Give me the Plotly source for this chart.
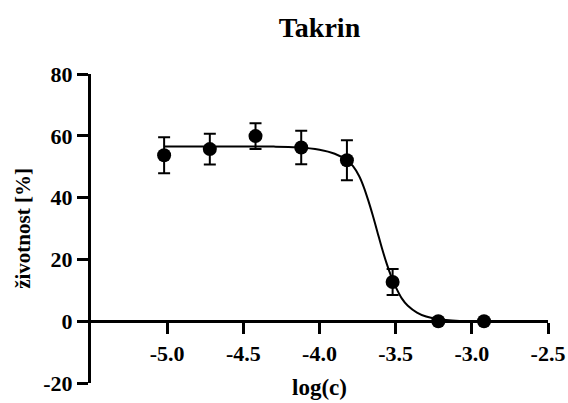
import plotly.graph_objects as go

# Data
log_c = [-5.02, -4.72, -4.42, -4.12, -3.82, -3.52, -3.22, -2.92]
viability = [53.7, 55.7, 59.9, 56.2, 52.1, 12.7, 0.0, 0.0]
viability_err = [5.8, 5.0, 4.2, 5.4, 6.5, 4.2, 0.0, 0.0]

# Fitted curve
fit_x = [-5.02, -4.6, -4.3, -4.15, -4.0, -3.9, -3.82, -3.78, -3.74, -3.71, -3.68, -3.65,
         -3.62, -3.59, -3.56, -3.53, -3.50, -3.46, -3.42, -3.36, -3.30, -3.24, -3.17, -3.08, -2.92]
fit_y = [56.5, 56.5, 56.5, 56.3, 55.5, 54.2, 52.1, 50.2, 47.0, 43.5, 39.1, 34.2,
         28.9, 23.6, 18.8, 14.6, 11.1, 7.4, 5.0, 2.8, 1.5, 0.8, 0.35, 0.1, 0.0]

x_ticks = [-5.0, -4.5, -4.0, -3.5, -3.0, -2.5]
x_tick_labels = ["-5.0", "-4.5", "-4.0", "-3.5", "-3.0", "-2.5"]
y_ticks = [-20, 0, 20, 40, 60, 80]
y_tick_labels = ["-20", "0", "20", "40", "60", "80"]

FONT = "Times New Roman"

fig = go.Figure()
fig.add_trace(go.Scatter(
    x=fit_x, y=fit_y, mode="lines", line=dict(color="black", width=2, shape="spline", smoothing=0.8),
    hoverinfo="skip", showlegend=False))
fig.add_trace(go.Scatter(
    x=log_c, y=viability, mode="markers",
    marker=dict(color="black", size=14),
    error_y=dict(type="data", array=viability_err, color="black", thickness=2, width=6,
                 visible=True),
    showlegend=False, cliponaxis=False))

fig.update_layout(
    width=568, height=403,
    margin=dict(l=91, r=20, t=74, b=20),
    paper_bgcolor="white", plot_bgcolor="white",
    font=dict(family=FONT, color="black", size=22, weight="bold"),
    title=dict(text="<b>Takrin</b>", x=0.5, xref="paper", xanchor="center",
               y=1 - 27 / 403, yref="container", yanchor="middle",
               font=dict(family=FONT, size=28, weight="bold", color="black")),
    xaxis=dict(range=[-5.5, -2.5], showgrid=False, zeroline=False, automargin=False,
               showline=True, linecolor="black", linewidth=3,
               ticks="outside", ticklen=11, tickwidth=3, tickcolor="black",
               tickvals=x_ticks, ticktext=x_tick_labels,
               tickfont=dict(family=FONT, size=22, weight="bold"),
               anchor="free", position=0.2,
               title=dict(text="log(c)", font=dict(family=FONT, size=23, weight="bold"),
                          standoff=14)),
    yaxis=dict(range=[-20, 80], showgrid=False, zeroline=False, automargin=False,
               showline=True, linecolor="black", linewidth=3,
               ticks="outside", ticklen=11, tickwidth=3, tickcolor="black",
               tickvals=y_ticks, ticktext=y_tick_labels,
               tickfont=dict(family=FONT, size=22, weight="bold"),
               title=dict(text="životnost [%]", font=dict(family=FONT, size=21, weight="bold"),
                          standoff=7)),
)

fig.write_html(
    "out.html",
    config={"displayModeBar": False, "staticPlot": True},
    post_script=("document.documentElement.style.margin='0';"
                 "document.documentElement.style.overflow='hidden';"
                 "document.body.style.margin='0';"
                 "document.body.style.overflow='hidden';"),
)
